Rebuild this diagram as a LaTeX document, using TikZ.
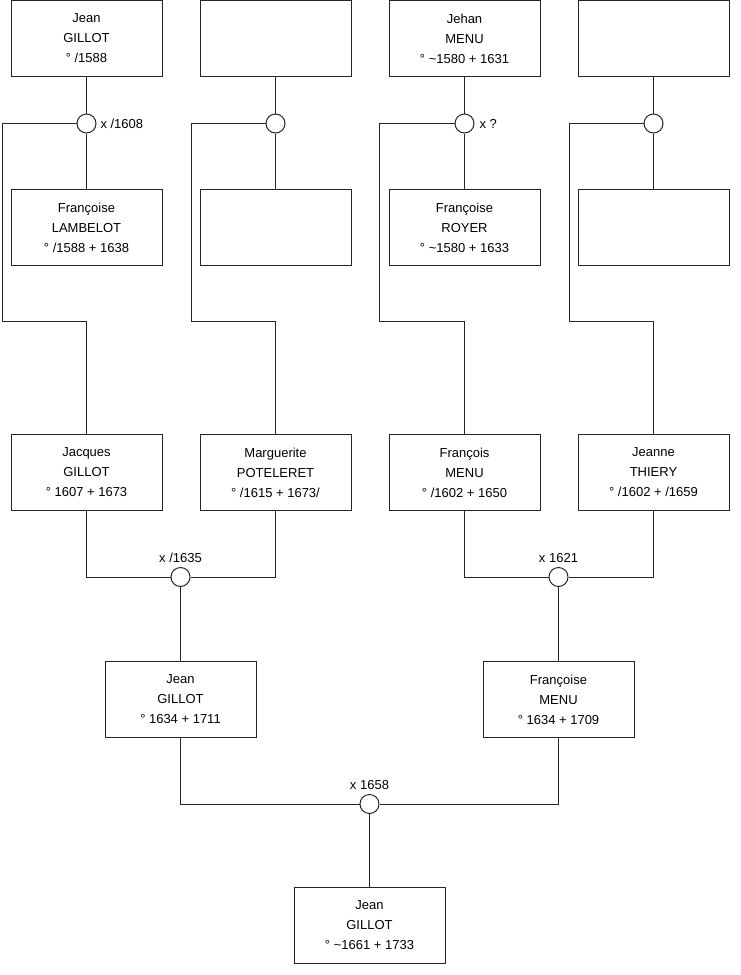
\documentclass[tikz,border=0pt]{standalone}
\usepackage{fontspec}
\setmainfont{Liberation Sans}
\begin{document}
\begin{tikzpicture}[x=1pt,y=-1pt,
  line width=1pt,
  conn/.style={draw=black!85},
  person/.style={draw=black!85, fill=white, rectangle, minimum width=151pt, minimum height=76pt, inner sep=0pt, align=center, font=\fontsize{13}{20}\selectfont},
  union/.style={draw=black!85, fill=white, circle, minimum size=19pt, inner sep=0pt},
  ulabel/.style={inner sep=0pt, font=\fontsize{13}{16}\selectfont}]
\useasboundingbox (0,0) rectangle (740,975);
% connector corner coordinates
\coordinate (l1) at (2,123.5);   \coordinate (m1) at (2,321);
\coordinate (l2) at (191,123.5); \coordinate (m2) at (191,321);
\coordinate (l3) at (379.5,123.5); \coordinate (m3) at (379.5,321);
\coordinate (l4) at (569,123.5); \coordinate (m4) at (569,321);
% row 1
\node[person] (b1) at (86.5,38.5) {Jean\\GILLOT\\° /1588};
\node[person] (b2) at (275.5,38.5) {};
\node[person] (b3) at (464.5,38.5) {Jehan\\MENU\\° \textasciitilde1580 + 1631};
\node[person] (b4) at (653.5,38.5) {};
% row 2
\node[person] (b5) at (86.5,227.5) {Françoise\\LAMBELOT\\° /1588 + 1638};
\node[person] (b6) at (275.5,227.5) {};
\node[person] (b7) at (464.5,227.5) {Françoise\\ROYER\\° \textasciitilde1580 + 1633};
\node[person] (b8) at (653.5,227.5) {};
% row 3
\node[person] (b9) at (86.5,472.5) {Jacques\\GILLOT\\° 1607 + 1673};
\node[person] (b10) at (275.5,472.5) {Marguerite\\POTELERET\\° /1615 + 1673/};
\node[person] (b11) at (464.5,472.5) {François\\MENU\\° /1602 + 1650};
\node[person] (b12) at (653.5,472.5) {Jeanne\\THIERY\\° /1602 + /1659};
% row 4
\node[person] (b13) at (180.5,699.5) {Jean\\GILLOT\\° 1634 + 1711};
\node[person] (b14) at (558.5,699.5) {Françoise\\MENU\\° 1634 + 1709};
% row 5
\node[person] (b15) at (369.5,925) {Jean\\GILLOT\\° \textasciitilde1661 + 1733};

% union circles
\node[union] (c1) at (86.5,123.5) {};
\node[union] (c2) at (275.5,123.5) {};
\node[union] (c3) at (464.5,123.5) {};
\node[union] (c4) at (653.5,123.5) {};
\node[union] (c5) at (180.5,577) {};
\node[union] (c6) at (558.5,577) {};
\node[union] (c7) at (369.5,804) {};

% labels
\node[ulabel, anchor=west] (t1) at (100,123.5) {x /1608};
\node[ulabel, anchor=west] (t3) at (479,123.5) {x ?};
\node[ulabel] (t5) at (180.5,558) {x /1635};
\node[ulabel] (t6) at (558.5,558) {x 1621};
\node[ulabel] (t7) at (369.5,785) {x 1658};

% connectors rows 1-2
\foreach \i/\k in {1/5,2/6,3/7,4/8}{
  \draw[conn] (b\i.south) -- (c\i.north);
  \draw[conn] (c\i.south) -- (b\k.north);
}
% to children
\draw[conn] (c1.west) -- (l1) -- (m1) -| (b9.north);
\draw[conn] (c2.west) -- (l2) -- (m2) -| (b10.north);
\draw[conn] (c3.west) -- (l3) -- (m3) -| (b11.north);
\draw[conn] (c4.west) -- (l4) -- (m4) -| (b12.north);
% row 3 unions
\draw[conn] (b9.south) |- (c5.west);
\draw[conn] (b10.south) |- (c5.east);
\draw[conn] (c5.south) -- (b13.north);
\draw[conn] (b11.south) |- (c6.west);
\draw[conn] (b12.south) |- (c6.east);
\draw[conn] (c6.south) -- (b14.north);
% row 4 union
\draw[conn] (b13.south) |- (c7.west);
\draw[conn] (b14.south) |- (c7.east);
\draw[conn] (c7.south) -- (b15.north);
\end{tikzpicture}
\end{document}
